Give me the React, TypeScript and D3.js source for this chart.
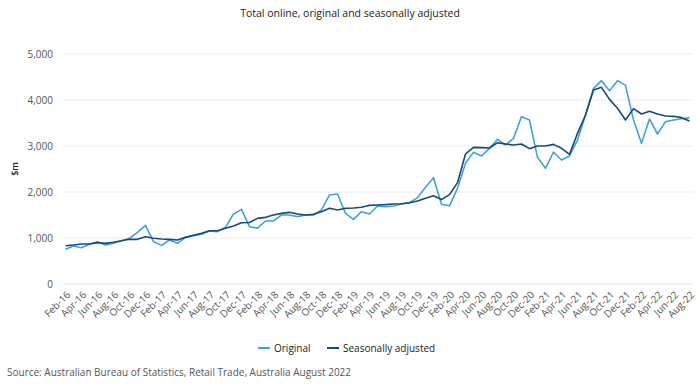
import React from "react";
import { scaleBand, scaleLinear, line, range } from "d3";

// months Feb-16 .. Aug-22
const monthNames = ["Jan", "Feb", "Mar", "Apr", "May", "Jun", "Jul", "Aug", "Sep", "Oct", "Nov", "Dec"];
const months: string[] = range(0, 79).map((i) => {
  const m = (1 + i) % 12;
  const y = 16 + Math.floor((1 + i) / 12);
  return `${monthNames[m]}-${y}`;
});

const original = [
  754, 826, 790, 862, 920, 848, 884, 942, 993, 1123, 1275, 920,
  840, 957, 884, 1014, 1051, 1080, 1152, 1138, 1232, 1522, 1623, 1246,
  1215, 1370, 1370, 1500, 1500, 1464, 1500, 1500, 1609, 1935, 1957, 1536,
  1406, 1572, 1522, 1696, 1681, 1696, 1739, 1768, 1877, 2101, 2312, 1732,
  1700, 2080, 2623, 2862, 2783, 2949, 3145, 3022, 3167, 3638, 3565, 2754,
  2515, 2870, 2696, 2783, 3130, 3674, 4254, 4420, 4203, 4420, 4319, 3565,
  3058, 3587, 3260, 3529, 3565, 3594, 3616,
];

const seasonallyAdjusted = [
  833, 848, 870, 870, 899, 884, 906, 942, 971, 971, 1029, 993,
  978, 971, 957, 1014, 1058, 1101, 1159, 1159, 1210, 1261, 1333, 1337,
  1427, 1449, 1500, 1536, 1558, 1522, 1500, 1514, 1572, 1645, 1609, 1645,
  1652, 1667, 1710, 1717, 1725, 1739, 1746, 1768, 1804, 1862, 1920, 1835,
  1942, 2203, 2826, 2971, 2964, 2957, 3072, 3043, 3022, 3043, 2942, 3000,
  3000, 3036, 2950, 2819, 3275, 3674, 4217, 4275, 4014, 3819, 3565, 3812,
  3696, 3754, 3696, 3652, 3645, 3616, 3543,
];

const yTicks = [0, 1000, 2000, 3000, 4000, 5000];
const tickLabels = months.filter((_, i) => i % 2 === 0);

const ORIGINAL_COLOR = "#41a2d9";
const SA_COLOR = "#174a74";
const FONT = "'Open Sans', 'Noto Sans', sans-serif";

export default function App() {
  const width = 700;
  const height = 388;
  const left = 63;
  const right = 693;

  const xScale = scaleBand<string>().domain(months).range([61.5, 693.5]).padding(0);
  const xc = (m: string) => (xScale(m) as number) + xScale.bandwidth() / 2;
  const yScale = scaleLinear().domain([0, 5000]).range([284, 54]);

  const makeLine = line<number>()
    .x((_, i) => xc(months[i]))
    .y((d) => yScale(d));

  return (
    <svg width={width} height={height} style={{ position: "absolute", left: 0, top: 0, fontFamily: FONT }}>
      <rect width={width} height={height} fill="#fff" />
      {/* title */}
      <text x={350} y={17} textAnchor="middle" fontSize={10.5} fill="#222">
        Total online, original and seasonally adjusted
      </text>

      {/* gridlines + y labels */}
      {yTicks.map((t) => (
        <g key={t}>
          <line
            x1={left}
            x2={right}
            y1={yScale(t)}
            y2={yScale(t)}
            stroke={t === 0 ? "#dfe3f0" : "#ebebeb"}
            strokeWidth={1}
          />
          <text x={53} y={yScale(t)} dy="0.35em" textAnchor="end" fontSize={10} fill="#555">
            {t.toLocaleString("en-US")}
          </text>
        </g>
      ))}

      <text
        transform={`translate(18, ${yScale(2500)}) rotate(-90)`}
        textAnchor="middle"
        fontSize={9}
        fontWeight={600}
        fill="#222"
      >
        $m
      </text>

      {/* x labels */}
      {tickLabels.map((m) => (
        <text
          key={m}
          transform={`translate(${xc(m) + 3}, 293) rotate(-45)`}
          textAnchor="end"
          dy="0.35em"
          fontSize={10}
          fill="#555"
        >
          {m}
        </text>
      ))}

      {/* lines */}
      <path d={makeLine(original) ?? ""} fill="none" stroke={ORIGINAL_COLOR} strokeWidth={1.6} strokeLinejoin="round" />
      <path d={makeLine(seasonallyAdjusted) ?? ""} fill="none" stroke={SA_COLOR} strokeWidth={1.6} strokeLinejoin="round" />

      {/* legend */}
      <g fontSize={10} fill="#222">
        <line x1={258} x2={270} y1={348} y2={348} stroke={ORIGINAL_COLOR} strokeWidth={2} />
        <text x={274} y={348} dy="0.35em">Original</text>
        <line x1={327} x2={339} y1={348} y2={348} stroke={SA_COLOR} strokeWidth={2} />
        <text x={343} y={348} dy="0.35em">Seasonally adjusted</text>
      </g>

      {/* source */}
      <text x={7} y={372} dy="0.35em" fontSize={10} fill="#555">
        Source: Australian Bureau of Statistics, Retail Trade, Australia August 2022
      </text>
    </svg>
  );
}
